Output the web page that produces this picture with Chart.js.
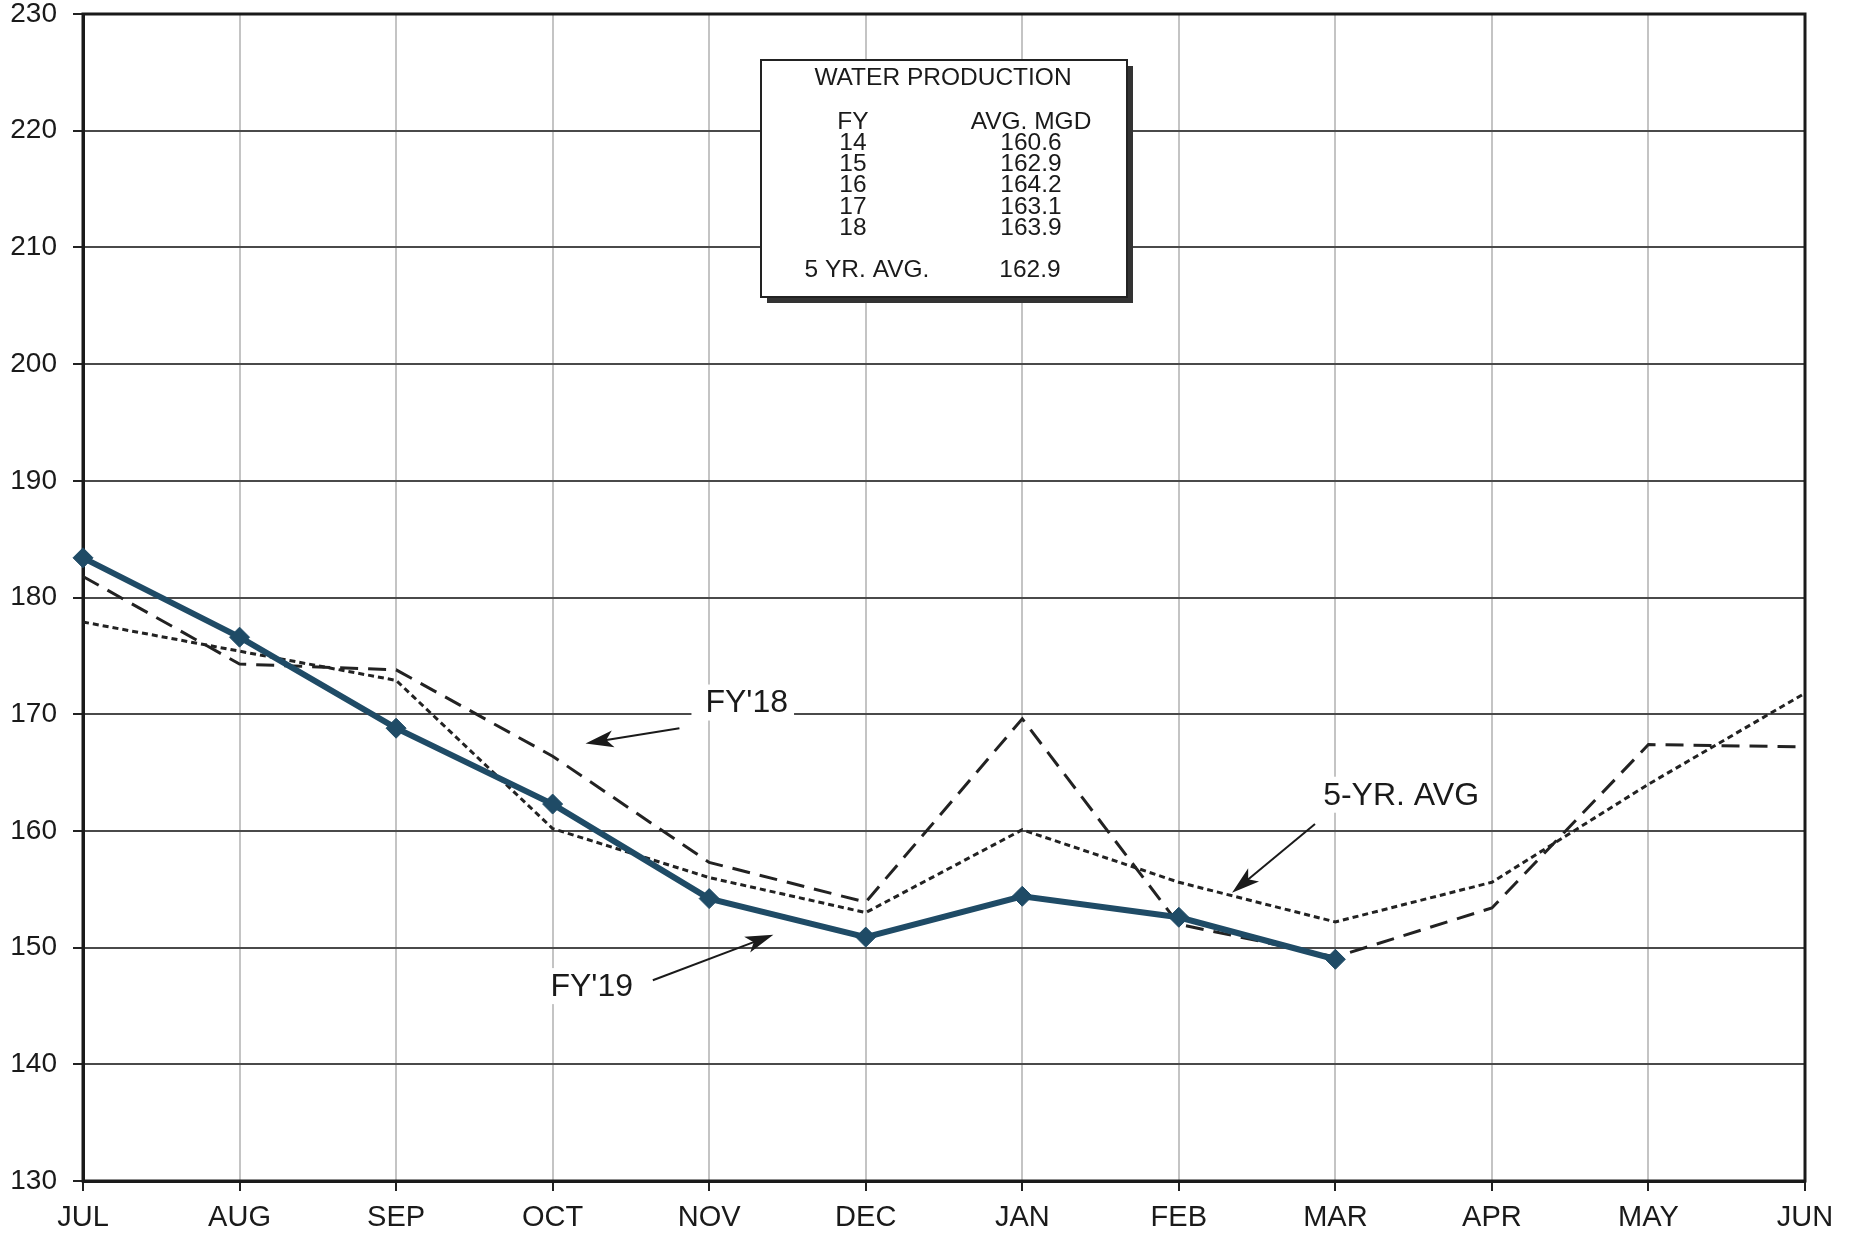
<!DOCTYPE html>
<html>
<head>
<meta charset="utf-8">
<title>Water Production</title>
<script src="https://cdn.jsdelivr.net/npm/chart.js@4.4.1/dist/chart.umd.min.js"></script>
<style>
  html, body { margin: 0; padding: 0; background: #fff; }
  #wrap { width: 1858px; height: 1238px; }
</style>
</head>
<body>
<div id="wrap"><canvas id="grafico" width="1858" height="1238"></canvas></div>
<script>
// Meses do ano fiscal
const meses = ["JUL", "AUG", "SEP", "OCT", "NOV", "DEC", "JAN", "FEB", "MAR", "APR", "MAY", "JUN"];

// Séries (MGD)
const fy19 = [183.4, 176.6, 168.8, 162.3, 154.2, 150.9, 154.4, 152.6, 149.0, null, null, null];
const fy18 = [181.8, 174.3, 173.8, 166.4, 157.3, 153.9, 169.6, 152.0, 149.2, 153.4, 167.4, 167.2];
const media5 = [177.9, 175.4, 172.9, 160.2, 156.0, 153.0, 160.1, 155.6, 152.2, 155.6, 164.0, 171.8];

// Eixo Y
const yMin = 130;
const yMax = 230;
const yPasso = 10;

// Quadro "WATER PRODUCTION"
const tituloQuadro = "WATER PRODUCTION";
const anosFY = ["14", "15", "16", "17", "18"];
const mediasFY = ["160.6", "162.9", "164.2", "163.1", "163.9"];
const media5Texto = "162.9";

// Rótulos com seta: texto em (x, y) e seta de -> para, em unidades do gráfico
const rotulos = [
  { texto: "FY'18", x: 4.24, y: 171.0, de: [3.81, 168.8], para: [3.21, 167.5] },
  { texto: "FY'19", x: 3.25, y: 146.7, de: [3.64, 147.2], para: [4.41, 151.1] },
  { texto: "5-YR. AVG", x: 8.42, y: 163.1, de: [7.87, 160.6], para: [7.34, 154.7] }
];

const FONTE = "'Liberation Sans', Arial, sans-serif";

const moldura = {
  id: 'moldura',
  beforeDatasetsDraw(chart) {
    const { ctx, chartArea: a } = chart;
    ctx.save();
    ctx.strokeStyle = '#1a1a1a';
    ctx.lineWidth = 3;
    ctx.strokeRect(a.left, a.top, a.right - a.left, a.bottom - a.top);
    ctx.restore();
  }
};

function desenharSeta(ctx, x1, y1, x2, y2) {
  const ang = Math.atan2(y2 - y1, x2 - x1);
  const comp = 28, larg = 8.5;
  const c = Math.cos(ang), s = Math.sin(ang);
  ctx.beginPath();
  ctx.moveTo(x1, y1);
  ctx.lineTo(x2 - comp * 0.7 * c, y2 - comp * 0.7 * s);
  ctx.stroke();
  ctx.beginPath();
  ctx.moveTo(x2, y2);
  ctx.lineTo(x2 - comp * c + larg * s, y2 - comp * s - larg * c);
  ctx.lineTo(x2 - comp * 0.75 * c, y2 - comp * 0.75 * s);
  ctx.lineTo(x2 - comp * c - larg * s, y2 - comp * s + larg * c);
  ctx.closePath();
  ctx.fill();
}

const anotacoes = {
  id: 'anotacoes',
  afterDraw(chart) {
    const { ctx } = chart;
    const xs = chart.scales.x, ys = chart.scales.y;
    ctx.save();

    // rótulos e setas
    ctx.font = "32px " + FONTE;
    ctx.textAlign = 'center';
    ctx.textBaseline = 'middle';
    rotulos.forEach(r => {
      const px = xs.getPixelForValue(r.x);
      const py = ys.getPixelForValue(r.y);
      const w = ctx.measureText(r.texto).width;
      ctx.fillStyle = '#fff';
      ctx.fillRect(px - w / 2 - 14, py - 18, w + 20, 36);
      ctx.fillStyle = '#1a1a1a';
      ctx.fillText(r.texto, px, py + 1);
      ctx.strokeStyle = '#1a1a1a';
      ctx.lineWidth = 2;
      desenharSeta(ctx,
        xs.getPixelForValue(r.de[0]), ys.getPixelForValue(r.de[1]),
        xs.getPixelForValue(r.para[0]), ys.getPixelForValue(r.para[1]));
    });

    // quadro
    const q = { l: 761, t: 60, r: 1127, b: 297 };
    ctx.fillStyle = '#333';
    ctx.fillRect(q.l + 6, q.b, q.r - q.l, 6);
    ctx.fillRect(q.r, q.t + 6, 6, q.b - q.t);
    ctx.fillStyle = '#fff';
    ctx.fillRect(q.l, q.t, q.r - q.l, q.b - q.t);
    ctx.strokeStyle = '#222';
    ctx.lineWidth = 2;
    ctx.strokeRect(q.l, q.t, q.r - q.l, q.b - q.t);

    ctx.fillStyle = '#1a1a1a';
    ctx.font = "24.5px " + FONTE;
    ctx.fillText(tituloQuadro, 943, 78);
    ctx.fillText("FY", 853, 122);
    ctx.fillText("AVG. MGD", 1031, 122);
    anosFY.forEach((ano, i) => {
      const y = 143 + i * 21.3;
      ctx.fillText(ano, 853, y);
      ctx.fillText(mediasFY[i], 1031, y);
    });
    ctx.fillText("5 YR. AVG.", 867, 270);
    ctx.fillText(media5Texto, 1030, 270);

    ctx.restore();
  }
};

new Chart(document.getElementById('grafico'), {
  type: 'line',
  data: {
    labels: meses,
    datasets: [
      {
        label: "FY'19",
        data: fy19,
        borderColor: '#1f4b66',
        backgroundColor: '#1f4b66',
        borderWidth: 6,
        pointStyle: 'rectRot',
        pointRadius: 10,
        pointBorderWidth: 1,
        tension: 0
      },
      {
        label: "FY'18",
        data: fy18,
        borderColor: '#222',
        borderWidth: 3,
        borderDash: [18, 10],
        pointRadius: 0,
        tension: 0
      },
      {
        label: "5-YR. AVG",
        data: media5,
        borderColor: '#222',
        borderWidth: 3,
        borderDash: [6, 4],
        pointRadius: 0,
        tension: 0
      }
    ]
  },
  options: {
    responsive: false,
    devicePixelRatio: 1,
    animation: false,
    layout: { padding: { top: 14, right: 53, left: 0, bottom: 0 } },
    plugins: {
      legend: { display: false },
      tooltip: { enabled: false }
    },
    scales: {
      x: {
        grid: { color: '#c4c4c4', lineWidth: 2, tickLength: 10, tickColor: '#222', tickWidth: 2 },
        border: { color: '#1a1a1a', width: 3 },
        ticks: {
          color: '#1a1a1a',
          font: { family: FONTE, size: 29 },
          padding: 10,
          maxRotation: 0,
          autoSkip: false
        },
        afterFit(scale) {
          scale.height = 57;
          scale.paddingLeft = 0;
          scale.paddingRight = 0;
        }
      },
      y: {
        min: yMin,
        max: yMax,
        grid: { color: '#4a4a4a', lineWidth: 2, tickLength: 10, tickColor: '#222', tickWidth: 2 },
        border: { color: '#1a1a1a', width: 3 },
        ticks: {
          stepSize: yPasso,
          color: '#1a1a1a',
          font: { family: FONTE, size: 28 },
          padding: 16
        },
        afterFit(scale) {
          scale.width = 83;
          scale.paddingTop = 0;
          scale.paddingBottom = 0;
        }
      }
    }
  },
  plugins: [moldura, anotacoes]
});
</script>
</body>
</html>
